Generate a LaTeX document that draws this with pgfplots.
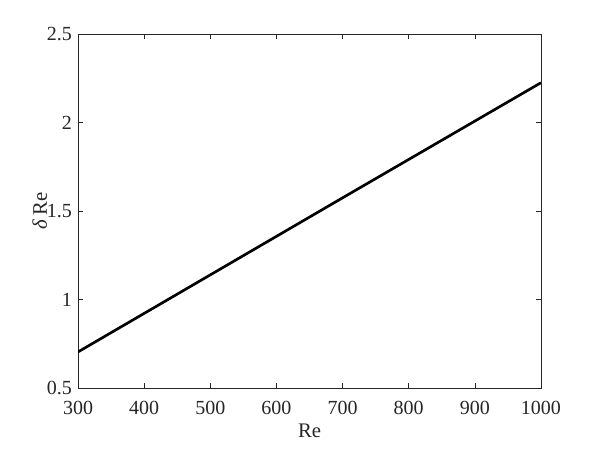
\documentclass[border=0pt]{standalone}
\usepackage{fontspec}
\setmainfont{Liberation Serif}
\usepackage{pgfplots}
\pgfplotsset{compat=1.18}
\usetikzlibrary{calc}
\definecolor{axgray}{RGB}{38,38,38}
\begin{document}
\begin{tikzpicture}
\begin{axis}[scale only axis, width=347pt, height=265.5pt,
  xmin=300, xmax=1000, ymin=0.5, ymax=2.5,
  xtick={300,400,...,1000}, ytick={0.5,1,1.5,2,2.5},
  yticklabels={0.5,1,1.5,2,2.5},
  tick align=inside, major tick length=4pt,
  axis line style={axgray, line width=0.5pt},
  every tick/.style={axgray, line width=0.5pt},
  tick label style={font=\fontsize{15}{17}\selectfont, text=axgray},
  label style={font=\fontsize{15.5}{17}\selectfont, text=axgray},
  /pgf/number format/assume math mode=true,
  /pgf/number format/1000 sep={},
  xticklabel style={yshift=-6pt},
  yticklabel style={xshift=-1pt},
  xlabel={Re}, ylabel={{\itshape δ} Re},
  xlabel style={yshift=0pt},
  ylabel style={yshift=-7pt}]
\addplot[black, line width=2pt] coordinates {(300,0.705) (500,1.140) (700,1.575) (1000,2.225)};
\end{axis}
\useasboundingbox ($(current axis.south west)+(-58.5pt,-45.75pt)$) rectangle ($(current axis.north east)+(42.75pt,25.5pt)$);
\end{tikzpicture}
\end{document}
